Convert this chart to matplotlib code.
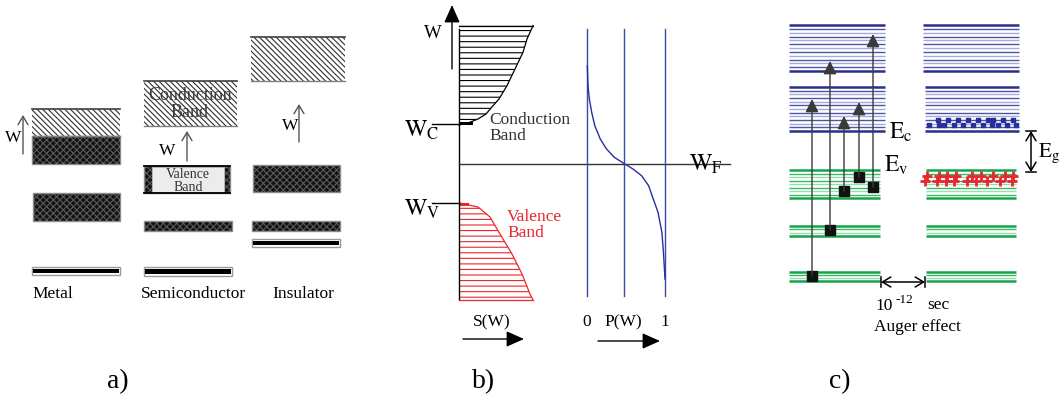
import numpy as np
import matplotlib
matplotlib.use('Agg')
import matplotlib.pyplot as plt
from matplotlib.patches import Rectangle

plt.rcParams['font.family'] = ['Liberation Serif', 'DejaVu Serif']
plt.rcParams['mathtext.fontset'] = 'stix'
plt.rcParams['hatch.linewidth'] = 0.8

# ── a) band schemes: (x_left, x_right, y_top, y_bottom, kind) ────────────────
metal_bands = [(32, 120, 110, 137, 'empty'), (32, 120, 137, 165, 'full'),
               (33, 120, 194, 222, 'full'), (32, 120, 268, 276, 'core')]
semi_bands = [(144, 237, 82, 127, 'empty'), (144, 230, 167, 194, 'partial'),
              (144, 232, 222, 232, 'full'), (144, 232, 268, 277, 'core')]
insu_bands = [(251, 345, 38, 82, 'empty'), (253, 340, 166, 193, 'full'),
              (252, 340, 222, 232, 'full'), (252, 340, 240, 248, 'core')]
material_names = ['Metal', 'Semiconductor', 'Insulator']
material_label_x = [32, 141, 272]
# gap arrows (x, y_from, y_to) and their W labels
gap_arrows = [(23, 155, 116), (187, 162, 132), (299, 143, 105)]
gap_labels = [(13, 138), (167, 151), (290, 126)]

# ── b) density of states S(W) and occupation P(W) ────────────────────────────
cond_w = [26.7, 40, 53.3, 70, 86.7, 100, 106.7, 115, 120, 124, 126]
cond_s = [74, 68, 64, 56, 48, 40, 34, 27, 19, 9, 0]
val_w = [204, 208, 218, 235, 255, 275, 295, 301]
val_s = [1, 19, 31, 41, 53, 63, 71, 74]
fermi_w = [66.7, 86.7, 100, 113.3, 126.7, 140, 150, 158.3, 164.3, 170,
           176.7, 186.7, 200, 213.3, 233.3, 253.3, 280]
fermi_p = [0.004, 0.013, 0.03, 0.06, 0.10, 0.17, 0.25, 0.35, 0.47, 0.59,
           0.70, 0.79, 0.85, 0.91, 0.96, 0.98, 1.0]
p_lines = [0, 0.47, 1]
p_tick_labels = ['0', 'P(W)', '1']
w_c, w_f, w_v = 124.5, 164.5, 204

# ── c) Auger relaxation: level groups (y_top, y_bottom, n_lines) ─────────────
blue_groups = [(26, 72, 13), (88, 132, 13)]
green_groups = [(171, 199, 9), (227, 237, 4), (273, 282, 4)]
# excitations: (x, y_start, y_end)
transitions = [(812, 277, 100), (830, 231, 62), (844, 192, 117),
               (859, 178, 103), (873, 188, 35)]
electron_row1 = [938, 948, 958, 968, 978, 988, 993, 1003, 1013]
electron_row2 = [929, 939, 944, 954, 963, 973, 983, 992, 998, 1007, 1016]
hole_row1 = [927, 939, 947, 956, 972, 981, 993, 1005, 1013]
hole_row2 = [925, 937, 946, 954, 967, 976, 987, 1000, 1012]

fig = plt.figure(figsize=(10.6, 4.02), dpi=100)
ax = fig.add_axes([0, 0, 1, 1])
ax.set_xlim(0, 1060)
ax.set_ylim(402, 0)
ax.axis('off')

DARK = '#121212'


def dark_block(x0, x1, y0, y1):
    ax.add_patch(Rectangle((x0, y0), x1 - x0, y1 - y0, facecolor=DARK,
                           edgecolor='#5a5a5a', hatch='xxxxx', lw=0))
    ax.add_patch(Rectangle((x0, y0), x1 - x0, y1 - y0, facecolor='none',
                           edgecolor='#8c8c8c', lw=1.0))


def draw_band(x0, x1, y0, y1, kind):
    if kind == 'empty':
        ax.add_patch(Rectangle((x0, y0), x1 - x0, y1 - y0, facecolor='white',
                               edgecolor='#303030', hatch='\\' * 6, lw=0))
        ax.plot([x0, x1], [y0, y0], color='#404040', lw=1.2)
        ax.plot([x0, x1], [y1, y1], color='#808080', lw=1.0)
    elif kind == 'full':
        dark_block(x0, x1, y0, y1)
    elif kind == 'partial':
        dark_block(x0, x1, y0, y1)
        ax.add_patch(Rectangle((x0 + 8, y0 + 1), x1 - x0 - 14, y1 - y0 - 2,
                               facecolor='#ececec', edgecolor='#bdbdbd', lw=0.6))
        ax.plot([x0, x1], [y0, y0], color='black', lw=1.3)
        ax.plot([x0, x1], [y1, y1], color='black', lw=1.3)
    else:
        ax.add_patch(Rectangle((x0, y0), x1 - x0, y1 - y0, facecolor='white',
                               edgecolor='#9a9a9a', lw=1.0))
        ax.add_patch(Rectangle((x0 + 1, y0 + 2), x1 - x0 - 2, y1 - y0 - 4,
                               facecolor='black', lw=0))


for bands in (metal_bands, semi_bands, insu_bands):
    for b in bands:
        draw_band(*b)

for name, x in zip(material_names, material_label_x):
    ax.text(x, 294, name, fontsize=12.5, ha='left', va='center')

for (x, y0, y1), (lx, ly) in zip(gap_arrows, gap_labels):
    ax.annotate('', xy=(x, y1), xytext=(x, y0),
                arrowprops=dict(arrowstyle='->,head_length=0.5,head_width=0.3',
                                color='#555555', lw=1.0, shrinkA=0, shrinkB=0,
                                mutation_scale=12))
    ax.text(lx, ly, 'W', fontsize=12.5, ha='center', va='center')

ax.text(190, 104, 'Conduction\nBand', fontsize=13, ha='center', va='center',
        color='#3a3a3a', linespacing=0.95)
ax.text(188, 181, 'Valence\nBand', fontsize=10, ha='center', va='center',
        color='#333333', linespacing=1.0)

# ── panel b ──────────────────────────────────────────────────────────────────
axis_x = 459
ax.fill_betweenx(cond_w, axis_x, axis_x + np.array(cond_s), facecolor='none',
                 edgecolor='black', hatch='---', lw=0)
ax.plot(axis_x + np.array(cond_s), cond_w, color='black', lw=0.9)
ax.plot([axis_x, axis_x + cond_s[0]], [cond_w[0], cond_w[0]], color='black', lw=0.9)
ax.fill_betweenx([w_c - 1.5, w_c + 1.5], axis_x, axis_x + 14, color='black', lw=0)

ax.fill_betweenx(val_w, axis_x, axis_x + np.array(val_s), facecolor='none',
                 edgecolor='#e8262c', hatch='---', lw=0)
ax.plot(axis_x + np.array(val_s), val_w, color='#e8262c', lw=0.9)
ax.plot([axis_x, axis_x + val_s[-1]], [val_w[-1], val_w[-1]], color='#e8262c', lw=0.9)
ax.fill_betweenx([w_v, w_v + 3], axis_x, axis_x + 10, color='#e8262c', lw=0)

ax.plot([axis_x, axis_x], [30, 300], color='black', lw=1.0)
ax.plot([432, axis_x], [w_c, w_c], color='black', lw=1.0)
ax.plot([432, axis_x], [w_v, w_v], color='black', lw=1.0)
ax.plot([axis_x, 730], [w_f, w_f], color='#333333', lw=1.0)

ax.annotate('', xy=(452, 6), xytext=(452, 70),
            arrowprops=dict(arrowstyle='-|>,head_length=0.9,head_width=0.4',
                            color='black', lw=1.0, shrinkA=0, shrinkB=0,
                            mutation_scale=12))
ax.text(433, 34, 'W', fontsize=13.5, ha='center', va='center')
ax.text(404, 130, r'$\mathrm{W_C}$', fontsize=17, ha='left', va='center')
ax.text(404, 209, r'$\mathrm{W_V}$', fontsize=17, ha='left', va='center')
ax.text(689, 164, r'$\mathrm{W_F}$', fontsize=17, ha='left', va='center')
ax.text(489, 128, 'Conduction\nBand', fontsize=12.5, ha='left', va='center',
        color='#333333', linespacing=1.05)
ax.text(507, 225, 'Valence\nBand', fontsize=12.5, ha='left', va='center',
        color='#e8262c', linespacing=1.05)

p_x0, p_span = 587, 78
for p, lab in zip(p_lines, p_tick_labels):
    px = p_x0 + p_span * p
    ax.plot([px, px], [30, 297], color='#3a4aa8', lw=1.0)
    ax.text(px, 322, lab, fontsize=12.5, ha='center', va='center')
ax.plot(p_x0 + p_span * np.array(fermi_p), fermi_w, color='#27309a', lw=1.0)
ax.text(492, 322, 'S(W)', fontsize=12.5, ha='center', va='center')

for x0, x1, y in [(463, 524, 340), (598, 660, 342)]:
    ax.annotate('', xy=(x1, y), xytext=(x0, y),
                arrowprops=dict(arrowstyle='-|>,head_length=0.9,head_width=0.4',
                                color='black', lw=1.0, shrinkA=0, shrinkB=0,
                                mutation_scale=12))

# ── panel c ──────────────────────────────────────────────────────────────────
def level_group(x0, x1, y0, y1, n, dark, mid, light):
    ys = np.linspace(y0, y1, n)
    for i, y in enumerate(ys):
        if i in (0, n - 1):
            ax.plot([x0, x1], [y, y], color=dark, lw=1.8, solid_capstyle='butt')
        else:
            ax.plot([x0, x1], [y, y], color=mid if i % 2 else light, lw=1.0,
                    solid_capstyle='butt')


for i, (y0, y1, n) in enumerate(blue_groups):
    level_group(789, 885, y0, y1, n, '#2a2f8c', '#4d55a8', '#a6abd6')
    level_group(923 + 2 * i, 1019, y0, y1, n, '#2a2f8c', '#4d55a8', '#a6abd6')
for y0, y1, n in green_groups:
    level_group(789, 880, y0, y1, n, '#17a34a', '#39b866', '#9bdcb2')
    level_group(926, 1016, y0, y1, n, '#17a34a', '#39b866', '#9bdcb2')

for x, y0, y1 in transitions:
    ax.annotate('', xy=(x, y1), xytext=(x, y0),
                arrowprops=dict(arrowstyle='-|>,head_length=0.8,head_width=0.4',
                                color='#3a3a3a', lw=1.0, shrinkA=0, shrinkB=0,
                                mutation_scale=10))
    ax.plot(x, y0, marker='s', color='#111111', markersize=7.5, ls='none')

ax.plot(electron_row1, [120.5] * len(electron_row1), marker='s', color='#27309a',
        markersize=3.2, ls='none')
ax.plot(electron_row2, [125.5] * len(electron_row2), marker='s', color='#27309a',
        markersize=3.2, ls='none')
ax.plot(hole_row1, [176.5] * len(hole_row1), marker='+', color='#e8262c',
        markersize=7, mew=2.0, ls='none')
ax.plot(hole_row2, [181.5] * len(hole_row2), marker='+', color='#e8262c',
        markersize=7, mew=2.0, ls='none')

ax.text(889, 132, r'$\mathrm{E_c}$', fontsize=17, ha='left', va='center')
ax.text(884, 165, r'$\mathrm{E_v}$', fontsize=17, ha='left', va='center')
ax.text(1038, 153, r'$\mathrm{E_g}$', fontsize=15, ha='left', va='center')

ax.annotate('', xy=(1031, 132), xytext=(1031, 173),
            arrowprops=dict(arrowstyle='<->,head_length=0.5,head_width=0.3',
                            color='black', lw=1.1, shrinkA=0, shrinkB=0,
                            mutation_scale=12))
ax.plot([1026, 1036], [132, 132], color='black', lw=1.1)
ax.plot([1026, 1036], [173, 173], color='black', lw=1.1)
ax.annotate('', xy=(925, 283), xytext=(881, 283),
            arrowprops=dict(arrowstyle='<->,head_length=0.5,head_width=0.3',
                            color='black', lw=1.1, shrinkA=0, shrinkB=0,
                            mutation_scale=12))
ax.plot([881, 881], [278, 288], color='black', lw=1.1)
ax.plot([925, 925], [278, 288], color='black', lw=1.1)

ax.text(875, 306, '10', fontsize=12.5, ha='left', va='center')
ax.text(896, 300, '-12', fontsize=9.5, ha='left', va='center')
ax.text(927, 305, 'sec', fontsize=12.5, ha='left', va='center')
ax.text(917, 327, 'Auger effect', fontsize=12.5, ha='center', va='center')

for lab, x in zip(['a)', 'b)', 'c)'], [118, 484, 840]):
    ax.text(x, 382, lab, fontsize=20, ha='center', va='center')

fig.savefig('out.png', dpi=100)
